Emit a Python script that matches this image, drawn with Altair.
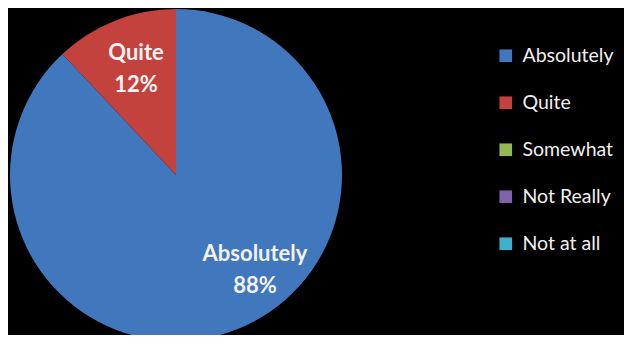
import altair as alt
import pandas as pd

categories = ["Absolutely", "Quite", "Somewhat", "Not Really", "Not at all"]
values = [88, 12, 0, 0, 0]
colors = ["#4177BC", "#C4423E", "#93B954", "#7F63A8", "#3FAFCB"]
pie_labels = ["Absolutely", "Quite"]
pie_pcts = ["88%", "12%"]

df = pd.DataFrame({"cat": categories, "val": values, "ord": list(range(len(categories)))})

CX, CY, R = 168, 167, 166

pie = alt.Chart(df).mark_arc(radius=R).encode(
    theta=alt.Theta("val:Q", stack=True),
    order=alt.Order("ord:Q"),
    color=alt.Color("cat:N", scale=alt.Scale(domain=categories, range=colors),
                    sort=categories,
                    legend=alt.Legend(title=None, orient="none", legendX=488, legendY=38,
                                      labelColor="#f0f0f0", labelFont="Lato", labelFontSize=19.5,
                                      symbolType="square", symbolSize=160, symbolStrokeWidth=0,
                                      rowPadding=26, labelOffset=7, labelLimit=200)),
    x=alt.value(CX), y=alt.value(CY),
)

lab_df = pd.DataFrame({
    "name": pie_labels,
    "pct": pie_pcts,
    "lx": [247, 128],
    "ly": [246, 45],
})

names = alt.Chart(lab_df).mark_text(font="Lato", fontWeight="bold", fontSize=22,
                                     color="#f2f2f2", baseline="middle").encode(
    text="name:N", x=alt.X("lx:Q", scale=None), y=alt.Y("ly:Q", scale=None))
pcts = alt.Chart(lab_df).mark_text(font="Lato", fontWeight="bold", fontSize=22,
                                    color="#f2f2f2", baseline="middle", dy=32).encode(
    text="pct:N", x=alt.X("lx:Q", scale=None), y=alt.Y("ly:Q", scale=None))

chart = alt.layer(pie, names, pcts).properties(
    width=616, height=327, padding=0, autosize=alt.AutoSizeParams(type="none"),
    background="black"
).configure_view(stroke=None)

chart.save("out.html", embed_options={"renderer": "svg", "actions": False})
